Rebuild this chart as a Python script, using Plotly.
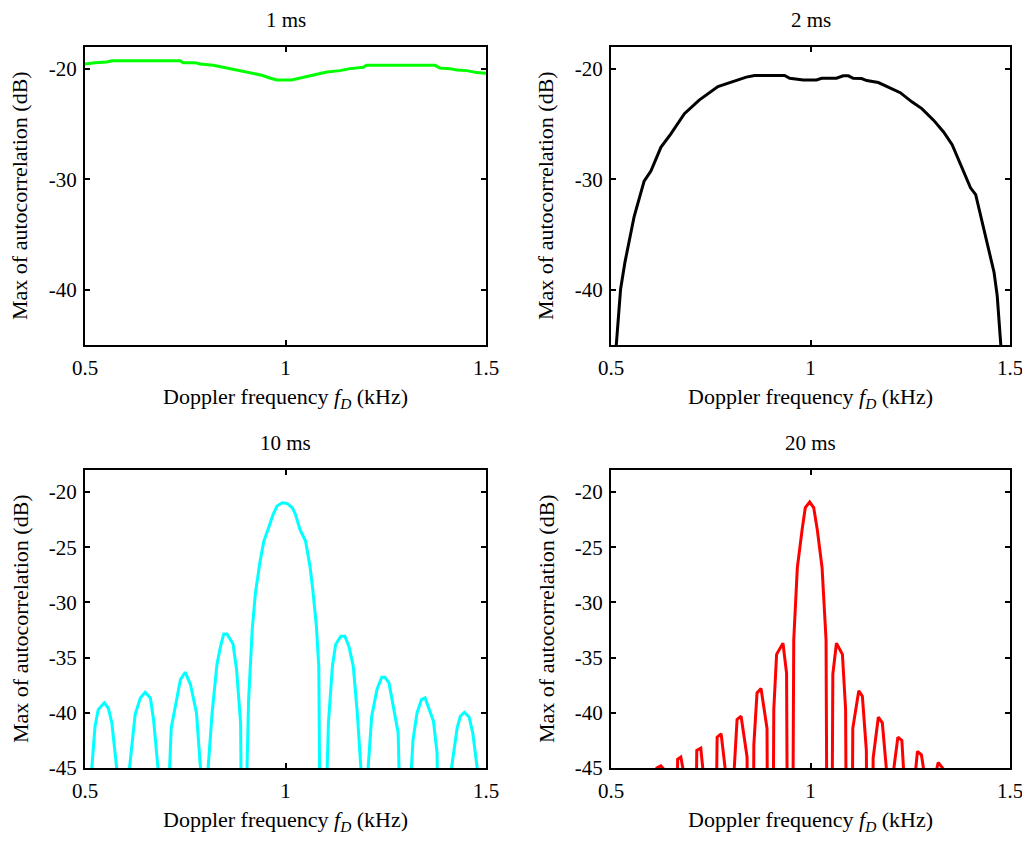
import plotly.graph_objects as go

# ---- data (Doppler frequency in kHz, max autocorrelation in dB) ----
fd_1ms = [0.500, 0.525, 0.554, 0.567, 0.737, 0.745, 0.774, 0.787, 0.820, 0.837, 0.862, 0.895, 0.920,
          0.941, 0.961, 0.978, 1.015, 1.036, 1.069, 1.103, 1.136, 1.161, 1.194, 1.202, 1.373, 1.385,
          1.410, 1.427, 1.452, 1.477, 1.500]
db_1ms = [-19.54, -19.42, -19.36, -19.24, -19.24, -19.42, -19.42, -19.54, -19.66, -19.78, -20.02, -20.26,
          -20.38, -20.56, -20.81, -20.99, -20.99, -20.81, -20.56, -20.26, -20.14, -19.96, -19.84, -19.66,
          -19.66, -19.90, -19.96, -20.08, -20.14, -20.32, -20.38]

fd_2ms = [0.509, 0.524, 0.535, 0.558, 0.583, 0.600, 0.625, 0.650, 0.684, 0.721, 0.768, 0.805, 0.839,
          0.860, 0.935, 0.948, 0.982, 1.015, 1.028, 1.065, 1.082, 1.095, 1.107, 1.128, 1.141, 1.170,
          1.191, 1.225, 1.254, 1.279, 1.309, 1.334, 1.355, 1.380, 1.401, 1.414, 1.426, 1.443, 1.460,
          1.468, 1.480]
db_2ms = [-47.0, -39.94, -37.49, -33.36, -30.15, -29.24, -27.09, -25.87, -24.04, -22.81, -21.59, -21.13,
          -20.73, -20.58, -20.58, -20.83, -20.98, -20.98, -20.83, -20.83, -20.61, -20.61, -20.83, -20.86,
          -21.04, -21.22, -21.59, -22.14, -22.97, -23.58, -24.65, -25.72, -26.85, -28.93, -30.76, -31.38,
          -33.21, -35.66, -38.41, -40.55, -46.5]

fd_10ms = [0.500,
           0.517, 0.525, 0.533, 0.548, 0.558, 0.567, 0.579, 0.595,
           0.611, 0.625, 0.638, 0.650, 0.663, 0.671, 0.682, 0.697,
           0.711, 0.715, 0.729, 0.738, 0.750, 0.763, 0.778, 0.788, 0.798,
           0.807, 0.817, 0.829, 0.838, 0.846, 0.854, 0.869, 0.878, 0.888, 0.889, 0.897,
           0.904, 0.908, 0.917, 0.925, 0.936, 0.946, 0.958, 0.969, 0.979, 0.992, 1.004, 1.017, 1.025,
           1.036, 1.050, 1.061, 1.068, 1.077, 1.083, 1.089, 1.097,
           1.104, 1.107, 1.117, 1.125, 1.138, 1.148, 1.158, 1.169, 1.179, 1.188, 1.197,
           1.206, 1.215, 1.228, 1.240, 1.248, 1.258, 1.271, 1.281, 1.283, 1.298,
           1.314, 1.318, 1.328, 1.339, 1.348, 1.358, 1.369, 1.378, 1.379, 1.396,
           1.414, 1.419, 1.428, 1.436, 1.446, 1.458, 1.467, 1.478, 1.500]
db_10ms = [-60,
           -45, -41.22, -39.71, -39.10, -39.56, -40.92, -45, -100,
           -45, -40.16, -38.65, -38.14, -38.65, -40.62, -45, -100,
           -45, -41.37, -38.50, -36.99, -36.32, -37.44, -40.01, -45, -100,
           -45, -40.01, -35.63, -33.97, -32.85, -32.85, -33.75, -36.08, -40.92, -45, -100,
           -45, -38.80, -32.45, -29.13, -26.41, -24.44, -23.23, -22.03, -21.27, -20.97, -21.03, -21.42,
           -22.03, -23.39, -24.44, -26.71, -28.83, -32.15, -35.78, -45, -100,
           -45, -40.92, -35.78, -33.81, -33.06, -33.06, -33.97, -35.78, -40.01, -45, -100,
           -45, -40.31, -37.90, -36.78, -36.78, -37.29, -39.71, -41.83, -45, -100,
           -45, -42.43, -40.01, -38.80, -38.65, -39.71, -40.77, -43.64, -45, -100,
           -45, -43.64, -41.37, -40.31, -39.95, -40.40, -41.83, -45, -60]

fd_20ms = [0.600,
           0.615, 0.625, 0.630, 0.648,
           0.665, 0.667, 0.675, 0.680, 0.697,
           0.714, 0.715, 0.725, 0.730, 0.747,
           0.764, 0.766, 0.776, 0.786, 0.797,
           0.809, 0.816, 0.826, 0.841, 0.849,
           0.858, 0.866, 0.876, 0.891, 0.899,
           0.908, 0.915, 0.931, 0.940, 0.949,
           0.958, 0.967, 0.979, 0.987, 0.998, 1.008, 1.017, 1.029, 1.039, 1.047,
           1.056, 1.065, 1.080, 1.088, 1.097,
           1.106, 1.121, 1.130, 1.140, 1.148,
           1.157, 1.170, 1.180, 1.190, 1.200,
           1.209, 1.219, 1.229, 1.233, 1.248,
           1.264, 1.268, 1.278, 1.283, 1.300,
           1.317, 1.320, 1.331, 1.345]
db_20ms = [-100,
           -45, -44.8, -45, -100,
           -45, -44.2, -44.0, -45, -100,
           -45, -43.4, -43.2, -45, -100,
           -45, -42.2, -41.9, -45, -100,
           -45, -40.6, -40.3, -44.0, -100,
           -42.9, -38.2, -37.8, -41.4, -100,
           -39.7, -34.7, -33.7, -36.4, -100,
           -33.4, -26.85, -23.4, -21.4, -20.9, -21.4, -23.4, -26.85, -33.4, -100,
           -36.5, -33.7, -34.7, -39.7, -100,
           -41.4, -38.0, -38.5, -43.4, -100,
           -44.1, -40.4, -40.9, -45, -100,
           -45, -42.2, -42.5, -45, -100,
           -45, -43.5, -43.8, -45, -100,
           -45, -44.5, -45, -100]

titles = ["1 ms", "2 ms", "10 ms", "20 ms"]
colors = ["#00ff00", "#000000", "#00ffff", "#ff0000"]
x_ticks = [0.5, 1, 1.5]
x_ticktext = ["0.5", "1", "1.5"]
y_ticks_top = [-20, -30, -40]
y_ticks_bottom = [-20, -25, -30, -35, -40, -45]
x_title = "Doppler frequency <i>f</i><sub><i>D</i></sub> (kHz)"
y_title = "Max of autocorrelation (dB)"

# page body has an 8px margin, so the figure is drawn 8px in from the window corner
OFF = 8
W, H = 1030 - OFF, 843 - OFF
FONT = "'Liberation Serif', 'Times New Roman', serif"
FS = 22
FS_TITLE = 21
FS_TICK = 21

series = [(fd_1ms, db_1ms), (fd_2ms, db_2ms), (fd_10ms, db_10ms), (fd_20ms, db_20ms)]

# pixel boxes of the four axes in window coordinates: (left, right, top, bottom)
boxes = [(85, 486, 47, 345), (611, 1010, 47, 345), (85, 486, 470, 768), (611, 1010, 470, 768)]

fig = go.Figure()
layout = dict(template="none", width=W, height=H, margin=dict(l=0, r=0, t=0, b=0, pad=0),
              paper_bgcolor="white", plot_bgcolor="white", showlegend=False,
              font=dict(family=FONT, size=FS, color="black"))
annotations = []
for i, ((xs, ys), col, ttl, box) in enumerate(zip(series, colors, titles, boxes)):
    n = "" if i == 0 else str(i + 1)
    fig.add_trace(go.Scatter(x=xs, y=ys, mode="lines", line=dict(color=col, width=3),
                             xaxis="x" + n, yaxis="y" + n, hoverinfo="skip"))
    l, r, t, b = [v - OFF for v in box]
    yt = y_ticks_top if i < 2 else y_ticks_bottom
    layout["xaxis" + n] = dict(domain=[l / W, r / W], anchor="y" + n, range=[0.5, 1.5],
                               tickvals=x_ticks, ticktext=x_ticktext, automargin=False,
                               showline=True, linecolor="black", linewidth=2, mirror="ticks",
                               ticks="inside", ticklen=5, tickwidth=1.5, tickcolor="black",
                               showgrid=False, zeroline=False, ticklabelstandoff=3,
                               tickfont=dict(family=FONT, size=FS_TICK, color="black"))
    layout["yaxis" + n] = dict(domain=[1 - b / H, 1 - t / H], anchor="x" + n, range=[-45, -18],
                               tickvals=yt, ticktext=[str(v) for v in yt], automargin=False,
                               showline=True, linecolor="black", linewidth=2, mirror="ticks",
                               ticks="inside", ticklen=5, tickwidth=1.5, tickcolor="black",
                               showgrid=False, zeroline=False, ticklabelstandoff=2,
                               tickfont=dict(family=FONT, size=FS_TICK, color="black"))
    cx = (l + r) / 2
    annotations.append(dict(text=ttl, x=cx / W, y=1 - (t - 27) / H, xref="paper", yref="paper",
                            showarrow=False, xanchor="center", yanchor="middle",
                            font=dict(family=FONT, size=FS_TITLE, color="black")))
    annotations.append(dict(text=x_title, x=cx / W, y=1 - (b + 53) / H, xref="paper", yref="paper",
                            showarrow=False, xanchor="center", yanchor="middle",
                            font=dict(family=FONT, size=FS, color="black")))
    annotations.append(dict(text=y_title, x=(l - 65) / W, y=1 - ((t + b) / 2) / H, xref="paper",
                            yref="paper", showarrow=False, textangle=-90, xanchor="center",
                            yanchor="middle", font=dict(family=FONT, size=FS, color="black")))
layout["annotations"] = annotations
fig.update_layout(**layout)
fig.write_html("out.html")
